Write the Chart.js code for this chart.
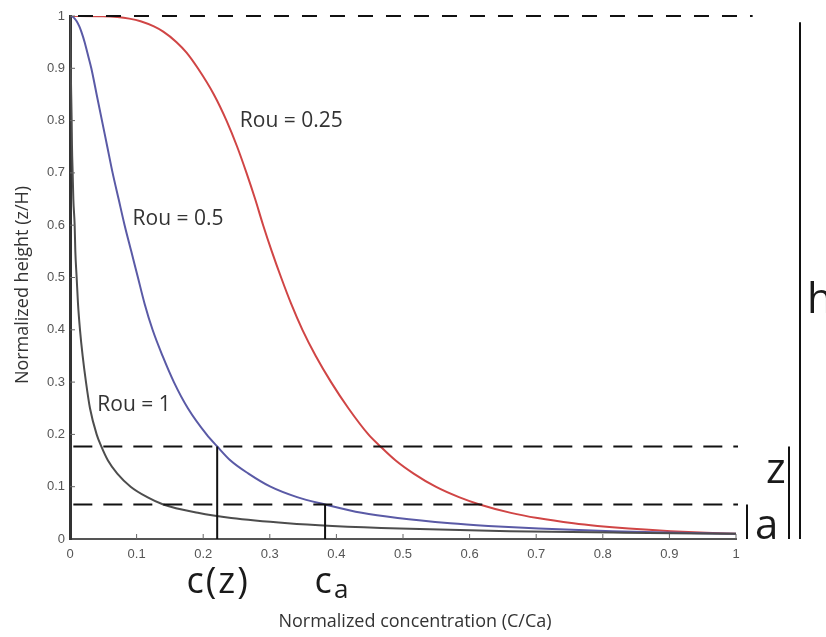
<!DOCTYPE html>
<html>
<head>
<meta charset="utf-8">
<script src="https://cdn.jsdelivr.net/npm/chart.js@4"></script>
<style>
  html, body { margin: 0; padding: 0; background: #fff; }
  canvas { display: block; }
</style>
</head>
<body>
<canvas id="rouseChart" width="826" height="637"></canvas>
<script>
// normalized height z/H (shared by all three profiles)
const heights = [0.01, 0.012, 0.015, 0.02, 0.025, 0.03, 0.04, 0.05, 0.066, 0.08, 0.1, 0.125, 0.15, 0.177, 0.2,
  0.25, 0.3, 0.35, 0.4, 0.45, 0.5, 0.55, 0.6, 0.65, 0.7, 0.75, 0.8, 0.85, 0.9, 0.93, 0.95, 0.97, 0.98,
  0.99, 0.995, 0.998, 0.9995, 1.0];

// normalized concentration C/Ca for each Rouse number
const rou1 = [1.0, 0.832, 0.66, 0.495, 0.394, 0.327, 0.242, 0.192, 0.14, 0.116, 0.091, 0.071, 0.057, 0.047, 0.04,
  0.03, 0.024, 0.019, 0.015, 0.012, 0.01, 0.008, 0.007, 0.005, 0.004, 0.003, 0.0025, 0.0018, 0.0011, 0.0008, 0.0005, 0.0003, 0.0002,
  0.0001, 0.00005, 0.00002, 0.00001, 0];
const rou05 = [1.0, 0.912, 0.814, 0.704, 0.628, 0.571, 0.492, 0.438, 0.383, 0.341, 0.301, 0.268, 0.241, 0.221, 0.205,
  0.177, 0.156, 0.139, 0.124, 0.112, 0.102, 0.092, 0.082, 0.073, 0.064, 0.056, 0.048, 0.04, 0.032, 0.026, 0.022, 0.017, 0.014,
  0.01, 0.007, 0.0045, 0.002, 0];
const rou025 = [1.0, 0.955, 0.902, 0.839, 0.792, 0.756, 0.702, 0.662, 0.615, 0.584, 0.549, 0.516, 0.489, 0.466, 0.448,
  0.418, 0.392, 0.369, 0.349, 0.332, 0.317, 0.303, 0.29, 0.278, 0.265, 0.251, 0.235, 0.216, 0.192, 0.175, 0.16, 0.14, 0.126,
  0.106, 0.089, 0.071, 0.05, 0];

const seriesNames = ["Rou = 1", "Rou = 0.5", "Rou = 0.25"];
const seriesColors = ["#4d4d4d", "#5a5aa6", "#d04545"];

const guideHeights = [0.177, 0.066];
const guideConc = [0.221, 0.383];

const toPoints = vals => heights.map((h, i) => ({ x: vals[i], y: h }));

const FONT = "'Open Sans', 'Noto Sans', sans-serif";

const annotate = {
  id: "annotate",
  afterDraw(chart) {
    const { ctx, chartArea: area, scales: { x, y } } = chart;
    const px = v => x.getPixelForValue(v);
    const py = v => y.getPixelForValue(v);
    ctx.save();

    // small tick marks pointing into the plot
    ctx.strokeStyle = "#666";
    ctx.lineWidth = 1;
    for (let i = 1; i <= 10; i++) {
      const v = i / 10;
      ctx.beginPath();
      ctx.moveTo(px(v), area.bottom);
      ctx.lineTo(px(v), area.bottom - 5);
      ctx.moveTo(area.left, py(v));
      ctx.lineTo(area.left + 5, py(v));
      ctx.stroke();
    }

    // dashed levels: surface, z and a
    ctx.strokeStyle = "#111";
    ctx.lineWidth = 2;
    ctx.setLineDash([15, 13]);
    ctx.beginPath();
    ctx.moveTo(px(0.012), py(1));
    ctx.lineTo(px(1.025), py(1));
    ctx.stroke();
    ctx.setLineDash([19, 11]);
    ctx.beginPath();
    ctx.moveTo(px(0.005), py(guideHeights[0]));
    ctx.lineTo(px(1.003), py(guideHeights[0]));
    ctx.moveTo(px(0.005), py(guideHeights[1]));
    ctx.lineTo(px(1.003), py(guideHeights[1]));
    ctx.stroke();
    ctx.setLineDash([]);

    // drop lines to c(z) and ca
    ctx.beginPath();
    ctx.moveTo(px(guideConc[0]), py(guideHeights[0]));
    ctx.lineTo(px(guideConc[0]), area.bottom);
    ctx.moveTo(px(guideConc[1]), py(guideHeights[1]));
    ctx.lineTo(px(guideConc[1]), area.bottom);
    ctx.stroke();

    // side bars for a, z and h
    ctx.lineWidth = 2;
    ctx.beginPath();
    ctx.moveTo(area.right + 11, py(guideHeights[1]));
    ctx.lineTo(area.right + 11, area.bottom);
    ctx.moveTo(area.right + 53, py(guideHeights[0]));
    ctx.lineTo(area.right + 53, area.bottom);
    ctx.moveTo(area.right + 64, py(0.988));
    ctx.lineTo(area.right + 64, area.bottom);
    ctx.stroke();

    ctx.fillStyle = "#1a1a1a";
    ctx.textBaseline = "alphabetic";
    ctx.textAlign = "left";
    ctx.font = "42px " + FONT;
    ctx.fillText("a", area.right + 19, area.bottom);
    ctx.fillText("z", area.right + 30, py(guideHeights[0]) + 37);
    ctx.fillText("h", area.right + 71, 313);

    // c(z) and ca under the axis
    ctx.font = "36px " + FONT;
    ctx.textAlign = "center";
    ctx.letterSpacing = "2px";
    ctx.fillText("c(z)", px(guideConc[0]) + 1, 593);
    ctx.letterSpacing = "0px";
    ctx.fillText("c", px(guideConc[1]) - 2, 593);
    ctx.textAlign = "left";
    ctx.font = "26px " + FONT;
    ctx.fillText("a", px(guideConc[1]) + 9, 598);

    // curve labels
    ctx.fillStyle = "#333";
    ctx.font = "21px " + FONT;
    ctx.textBaseline = "middle";
    const labelAt = [[0.041, 0.257], [0.094, 0.612], [0.255, 0.799]];
    seriesNames.forEach((name, i) => {
      ctx.fillText(name, px(labelAt[i][0]), py(labelAt[i][1]));
    });

    // axis titles
    ctx.font = "18px " + FONT;
    ctx.textBaseline = "alphabetic";
    ctx.textAlign = "center";
    ctx.fillText("Normalized concentration (C/Ca)", 415, 627);
    ctx.translate(28, 285);
    ctx.rotate(-Math.PI / 2);
    ctx.fillText("Normalized height (z/H)", 0, 0);

    ctx.restore();
  }
};

const tickFont = { family: "'Liberation Sans', Arial, sans-serif", size: 13 };
const tickLabel = v => String(Math.round(v * 10) / 10);

new Chart(document.getElementById("rouseChart"), {
  type: "scatter",
  data: {
    datasets: [rou1, rou05, rou025].map((vals, i) => ({
      label: seriesNames[i],
      data: toPoints(vals),
      showLine: true,
      borderColor: seriesColors[i],
      borderWidth: 2,
      pointRadius: 0,
      cubicInterpolationMode: "monotone"
    }))
  },
  options: {
    responsive: false,
    animation: false,
    devicePixelRatio: 1,
    layout: { padding: { top: 16, right: 90, left: 0, bottom: 0 } },
    plugins: {
      legend: { display: false },
      tooltip: { enabled: false }
    },
    scales: {
      x: {
        type: "linear",
        min: 0,
        max: 1,
        ticks: { stepSize: 0.1, font: tickFont, color: "#555", padding: 8, autoSkip: false, maxRotation: 0, callback: tickLabel },
        grid: { display: false, drawTicks: false },
        border: { color: "#555", width: 2 },
        afterFit: s => { s.height = 98; }
      },
      y: {
        type: "linear",
        min: 0,
        max: 1,
        ticks: { stepSize: 0.1, font: tickFont, color: "#555", padding: 5, autoSkip: false, callback: tickLabel },
        grid: { display: false, drawTicks: false },
        border: { color: "#333", width: 3 },
        afterFit: s => { s.width = 70; }
      }
    }
  },
  plugins: [annotate]
});
</script>
</body>
</html>
